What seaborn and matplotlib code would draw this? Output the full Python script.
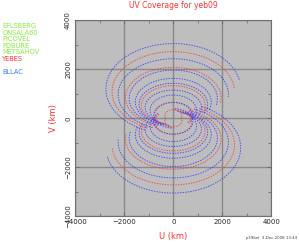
import numpy as np
import pandas as pd
import matplotlib
matplotlib.use("Agg")
import matplotlib.pyplot as plt
import seaborn as sns

# upper-half uv tracks (the lower half is the conjugate)
# each track is an ellipse arc: top / bottom v on the u=0 line, half width in u,
# and start / end hour-angle phase in degrees (0 = top of the ellipse)
track_color = ["blue", "red", "blue", "red", "blue", "blue", "blue", "red",
               "blue", "blue", "red", "blue", "red"]
track_top = [3050, 2720, 2430, 2080, 1970, 1630, 1430, 1330, 1150, 950, 650, 650, 350]
track_bottom = [-650, -550, -480, -400, -350, -300, -280, -260, -250, -300, -350, -400, -150]
track_halfwidth = [2750, 2500, 2250, 1950, 1800, 1550, 1400, 1300, 1150, 950, 750, 800, 350]
track_start = [-155, -155, -158, -160, -160, -162, -165, -160, -165, -170, -175, -175, -120]
track_end = [80, 85, 95, 100, 105, 110, 115, 115, 120, 125, 130, 130, 120]

stations = ["EFLSBERG", "ONSALA60", "PICOVEL", "PDBURE", "METSAHOV", "YEBES", "", "BLLAC"]
station_colors = ["#86ec3c"] * 5 + ["#ff3030", None, "#3a7fff"]

ticks = [-4000, -2000, 0, 2000, 4000]

rows = []
for i in range(len(track_top)):
    c = (track_top[i] + track_bottom[i]) / 2
    b = (track_top[i] - track_bottom[i]) / 2
    t = np.radians(np.arange(track_start[i], track_end[i] + 1, 2))
    u = track_halfwidth[i] * np.sin(t)
    v = c + b * np.cos(t)
    rows.append(pd.DataFrame({"u": u, "v": v, "track": f"{i}a", "color": track_color[i]}))
    rows.append(pd.DataFrame({"u": -u, "v": -v, "track": f"{i}b", "color": track_color[i]}))
uv = pd.concat(rows, ignore_index=True)

sns.set_style("ticks")
fig = plt.figure(figsize=(2.99, 2.44), dpi=100)
ax = fig.add_axes([0.2518, 0.1135, 0.6556, 0.8033])
ax.set_facecolor("#bebebe")

pal = {"blue": "#3030ff", "red": "#ff3030"}
for trk, d in uv.groupby("track", sort=False):
    sns.lineplot(data=d, x="u", y="v", sort=False, ax=ax, color=pal[d["color"].iloc[0]],
                 lw=0.7, alpha=0.75, linestyle=(0, (1.5, 1.2)), estimator=None)

ax.set_xlim(-4000, 4000)
ax.set_ylim(-4000, 4000)
ax.set_xticks(ticks)
ax.set_yticks(ticks)
ax.set_xticks(range(-3000, 4000, 2000), minor=True)
ax.set_yticks(range(-3000, 4000, 2000), minor=True)
ax.set_xticklabels([str(x).replace("-", "\u2212") for x in ticks], fontsize=5)
ax.set_yticklabels([str(x).replace("-", "\u2212") for x in ticks], fontsize=5,
                   rotation=90, va="center")
ax.tick_params(which="both", direction="in", top=True, right=True, width=0.5,
               color="#606060", pad=2)
ax.tick_params(axis="y", pad=3)
ax.tick_params(which="major", length=3)
ax.tick_params(which="minor", length=2)
ax.grid(True, which="major", color="#8a8a8a", lw=1.0)
ax.set_axisbelow(True)
for s in ax.spines.values():
    s.set_color("#707070")
    s.set_linewidth(0.8)

ax.set_xlabel("U (km)", color="#ff3030", fontsize=6, labelpad=5)
ax.set_ylabel("V (km)", color="#ff3030", fontsize=6, labelpad=5)
ax.set_title("UV Coverage for yeb09", color="#ff3030", fontsize=5.5, pad=9)

for i, name in enumerate(stations):
    if name:
        fig.text(0.008, 1 - (26 + 6.6 * i) / 244, name, color=station_colors[i],
                 fontsize=4.8, va="center", ha="left")

fig.text(0.995, 0.015, "p59bel  3-Dec-2008 13:44", fontsize=2.8, ha="right",
         va="bottom", color="#404040")

fig.savefig("out.png", dpi=100)
